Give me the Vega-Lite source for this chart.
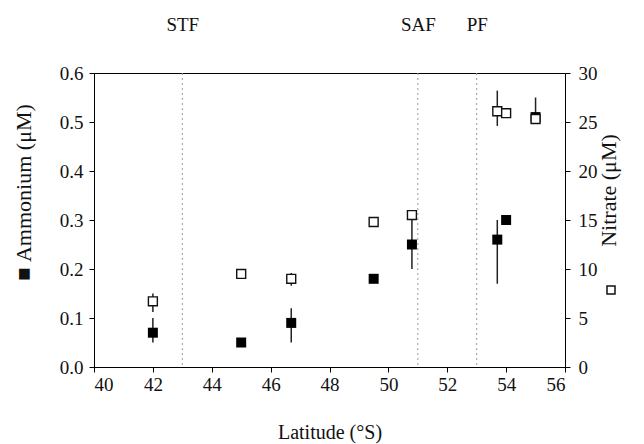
{
  "$schema": "https://vega.github.io/schema/vega-lite/v6.json",
  "width": 471,
  "height": 294,
  "autosize": "none",
  "padding": {"left": 94, "top": 73, "right": 79, "bottom": 77},
  "background": "white",
  "config": {
    "view": {"stroke": "black", "strokeWidth": 1},
    "font": "Liberation Serif",
    "axis": {
      "grid": false,
      "domainColor": "black",
      "tickColor": "black",
      "labelColor": "#111111",
      "titleColor": "#111111",
      "labelFont": "Liberation Serif",
      "titleFont": "Liberation Serif",
      "labelFontSize": 19,
      "titleFontSize": 22,
      "titleFontWeight": "normal",
      "tickSize": 5
    }
  },
  "datasets": {
    "amm": [
      {"lat": 42, "amm": 0.07, "lo": 0.05, "hi": 0.10},
      {"lat": 45, "amm": 0.05},
      {"lat": 46.7, "amm": 0.09, "lo": 0.05, "hi": 0.12},
      {"lat": 49.5, "amm": 0.18},
      {"lat": 50.8, "amm": 0.25, "lo": 0.20, "hi": 0.30},
      {"lat": 53.7, "amm": 0.26, "lo": 0.17, "hi": 0.30},
      {"lat": 54, "amm": 0.30},
      {"lat": 55, "amm": 0.51, "lo": 0.51, "hi": 0.55}
    ],
    "nit": [
      {"lat": 42, "nit": 6.7, "lo": 5.6, "hi": 7.5},
      {"lat": 45, "nit": 9.5},
      {"lat": 46.7, "nit": 9.0, "lo": 8.3, "hi": 9.6},
      {"lat": 49.5, "nit": 14.8},
      {"lat": 50.8, "nit": 15.5},
      {"lat": 53.7, "nit": 26.1, "lo": 24.6, "hi": 28.2},
      {"lat": 54, "nit": 25.9},
      {"lat": 55, "nit": 25.3}
    ],
    "fronts": [
      {"lat": 43, "name": "STF"},
      {"lat": 51, "name": "SAF"},
      {"lat": 53, "name": "PF"}
    ]
  },
  "layer": [
    {
      "data": {"name": "fronts"},
      "mark": {"type": "rule", "color": "#999999", "strokeWidth": 1, "strokeDash": [2, 3]},
      "encoding": {
        "x": {
          "field": "lat",
          "type": "quantitative",
          "scale": {"domain": [40, 56]},
          "axis": {
            "orient": "top",
            "values": [43, 51, 53],
            "labelExpr": "datum.value == 43 ? 'STF' : datum.value == 51 ? 'SAF' : 'PF'",
            "ticks": false,
            "domain": false,
            "title": null,
            "labelFont": "Liberation Serif",
            "labelFontSize": 19,
            "labelPadding": 39
          }
        }
      }
    },
    {
      "data": {"name": "amm"},
      "encoding": {
        "x": {
          "field": "lat",
          "type": "quantitative",
          "scale": {"domain": [40, 56]},
          "axis": {
            "orient": "bottom",
            "values": [40, 42, 44, 46, 48, 50, 52, 54, 56],
            "title": "Latitude (°S)",
            "labelFont": "Liberation Serif",
            "titleFont": "Liberation Serif",
            "titleFontSize": 20,
            "labelPadding": 3,
            "titlePadding": 28
          }
        }
      },
      "layer": [
        {
          "mark": {"type": "rule", "color": "#222222", "strokeWidth": 1.5},
          "encoding": {
            "y": {
              "field": "lo",
              "type": "quantitative",
              "scale": {"domain": [0, 0.6]},
              "axis": {
                "orient": "left",
                "values": [0, 0.1, 0.2, 0.3, 0.4, 0.5, 0.6],
                "format": ".1f",
                "labelFont": "Liberation Serif",
                "labelPadding": 6,
                "title": "■\u00a0Ammonium (μM)",
                "titleY": 119,
                "titlePadding": 24
              }
            },
            "y2": {"field": "hi"}
          }
        },
        {
          "mark": {"type": "point", "shape": "square", "filled": true, "color": "black", "size": 100, "opacity": 1},
          "encoding": {
            "y": {"field": "amm", "type": "quantitative"}
          }
        }
      ]
    },
    {
      "data": {"name": "nit"},
      "encoding": {
        "x": {"field": "lat", "type": "quantitative", "scale": {"domain": [40, 56]}, "axis": null}
      },
      "layer": [
        {
          "mark": {"type": "rule", "color": "#222222", "strokeWidth": 1.5},
          "encoding": {
            "y": {
              "field": "lo",
              "type": "quantitative",
              "scale": {"domain": [0, 30]},
              "axis": {
                "orient": "right",
                "values": [0, 5, 10, 15, 20, 25, 30],
                "labelFont": "Liberation Serif",
                "labelPadding": 8,
                "title": "Nitrate (μM)",
                "titleAngle": 270,
                "titleY": 117,
                "titlePadding": 23
              }
            },
            "y2": {"field": "hi"}
          }
        },
        {
          "mark": {"type": "point", "shape": "square", "filled": true, "fill": "white", "stroke": "#111111", "strokeWidth": 1.4, "size": 80, "opacity": 1},
          "encoding": {
            "y": {"field": "nit", "type": "quantitative"},
            "shape": {
              "datum": "Nitrate",
              "type": "nominal",
              "scale": {"range": ["square"]},
              "legend": {
                "orient": "none",
                "legendX": 512,
                "legendY": 212,
                "title": null,
                "labelExpr": "''",
                "padding": 0,
                "symbolSize": 64,
                "symbolType": "square",
                "labelFontSize": 10,
                "encode": {
                  "symbols": {
                    "update": {
                      "fill": {"value": "white"},
                      "stroke": {"value": "#111111"},
                      "strokeWidth": {"value": 1.2},
                      "opacity": {"value": 1}
                    }
                  }
                }
              }
            }
          }
        }
      ]
    }
  ],
  "resolve": {"scale": {"y": "independent"}, "axis": {"x": "independent"}}
}
